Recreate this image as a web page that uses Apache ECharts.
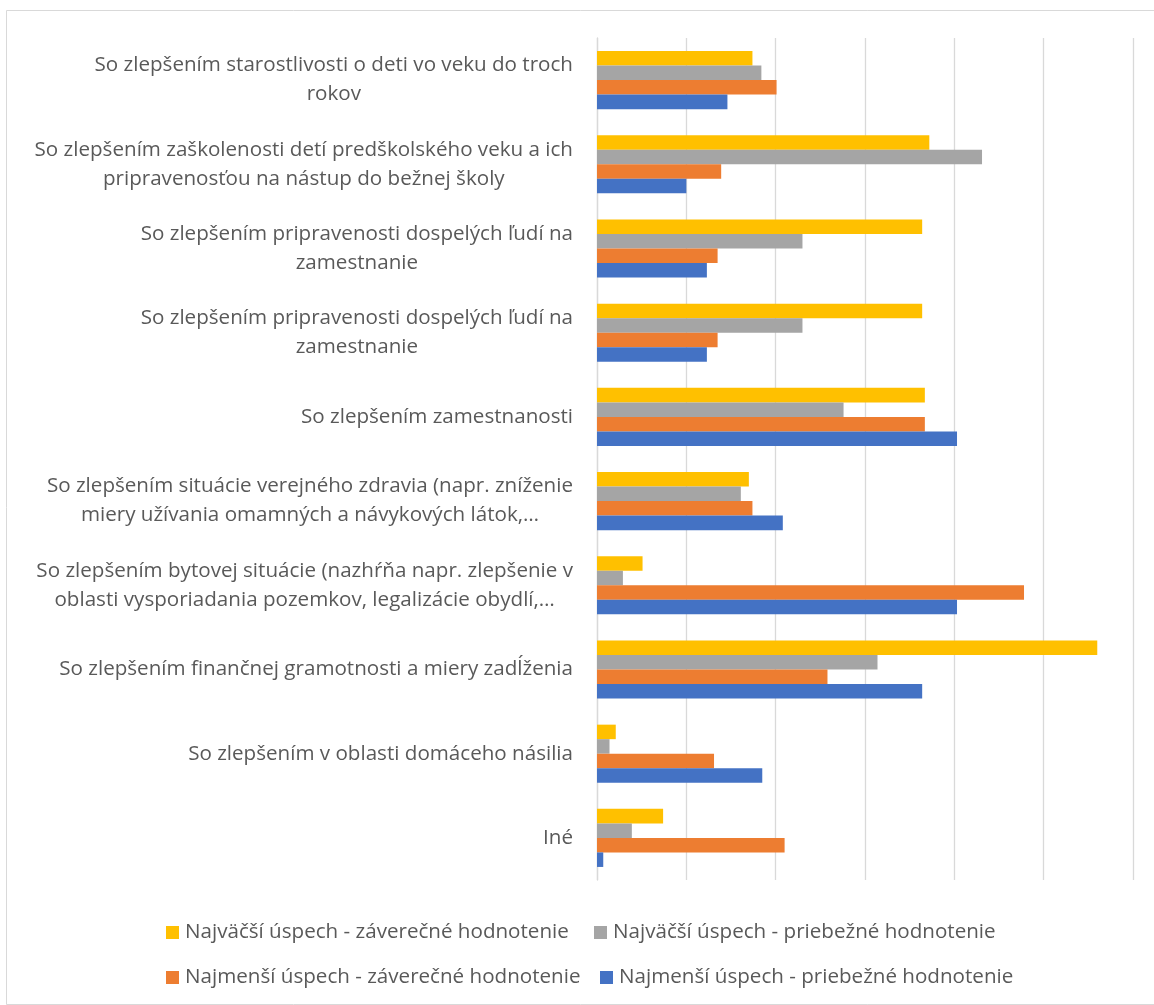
<!DOCTYPE html>
<html><head><meta charset="utf-8">
<script src="https://cdn.jsdelivr.net/npm/echarts@6/dist/echarts.min.js"></script>
<style>html,body{margin:0;padding:0;background:#fff}#c{width:1154px;height:1005px}</style>
</head><body><div id="c"></div>
<script>
const categories = [
  "So zlepšením starostlivosti o deti vo veku do troch\nrokov",
  "So zlepšením zaškolenosti detí predškolského veku a ich\npripravenosťou na nástup do bežnej školy",
  "So zlepšením pripravenosti dospelých ľudí na\nzamestnanie",
  "So zlepšením pripravenosti dospelých ľudí na\nzamestnanie",
  "So zlepšením zamestnanosti",
  "So zlepšením situácie verejného zdravia (napr. zníženie\nmiery užívania omamných a návykových látok,…",
  "So zlepšením bytovej situácie (nazhŕňa napr. zlepšenie v\noblasti vysporiadania pozemkov, legalizácie obydlí,…",
  "So zlepšením finančnej gramotnosti a miery zadĺženia",
  "So zlepšením v oblasti domáceho násilia",
  "Iné"
];
const seriesNames = [
  "Najväčší úspech - záverečné hodnotenie",
  "Najväčší úspech - priebežné hodnotenie",
  "Najmenší úspech - záverečné hodnotenie",
  "Najmenší úspech - priebežné hodnotenie"
];
const najvacsiZaverecne = [17.4, 37.2, 36.4, 36.4, 36.7, 17.0, 5.1, 56.0, 2.1, 7.4];
const najvacsiPriebezne = [18.4, 43.1, 23.0, 23.0, 27.6, 16.1, 2.9, 31.4, 1.4, 3.9];
const najmensiZaverecne = [20.1, 13.9, 13.5, 13.5, 36.7, 17.4, 47.8, 25.8, 13.1, 21.0];
const najmensiPriebezne = [14.6, 10.0, 12.3, 12.3, 40.3, 20.8, 40.3, 36.4, 18.5, 0.7];
const colors = ["#FFC000", "#A5A5A5", "#ED7D31", "#4472C4"];
const values = [najvacsiZaverecne, najvacsiPriebezne, najmensiZaverecne, najmensiPriebezne];

const font = "'Open Sans', sans-serif";
const textColor = '#595959';
const fs = 20.6;
const legendPos = [[166, 922], [594, 922], [166, 967], [600, 967]];
const chart = echarts.init(document.getElementById('c'), null, {renderer: 'canvas'});
chart.setOption({
  animation: false,
  backgroundColor: '#fff',
  color: colors,
  graphic: [{
    type: 'rect', left: 4, top: 8, shape: {width: 1160, height: 994},
    style: {fill: 'none', stroke: '#D9D9D9', lineWidth: 1}, silent: true
  }],
  grid: {left: 597, right: 21, top: 38, bottom: 125, containLabel: false},
  legend: seriesNames.map((n, i) => ({
    data: [n], left: legendPos[i][0], top: legendPos[i][1], padding: 0,
    itemWidth: 13, itemHeight: 13, icon: 'rect',
    textStyle: {fontFamily: font, fontSize: fs, color: textColor, padding: [0, 0, 0, 1]}
  })),
  xAxis: {
    type: 'value', min: 0, max: 60, interval: 10,
    axisLabel: {show: false}, axisTick: {show: false}, axisLine: {show: false},
    splitLine: {lineStyle: {color: '#D9D9D9', width: 1.3}}
  },
  yAxis: {
    type: 'category', data: categories, inverse: true,
    axisTick: {show: false},
    axisLine: {lineStyle: {color: '#D9D9D9', width: 1.3}},
    axisLabel: {
      fontFamily: font, fontSize: fs, color: textColor, lineHeight: 29, margin: 24, align: 'right',
      formatter: v => v.split('\n').map(l => '{c|' + l + '}').join('\n'),
      rich: {c: {align: 'center', fontFamily: font, fontSize: fs, color: textColor, lineHeight: 29}}
    }
  },
  series: values.map((v, i) => ({
    name: seriesNames[i], type: 'bar', data: v,
    barGap: '0%', barCategoryGap: '31%',
    itemStyle: {color: colors[i]}
  }))
});
</script></body></html>
